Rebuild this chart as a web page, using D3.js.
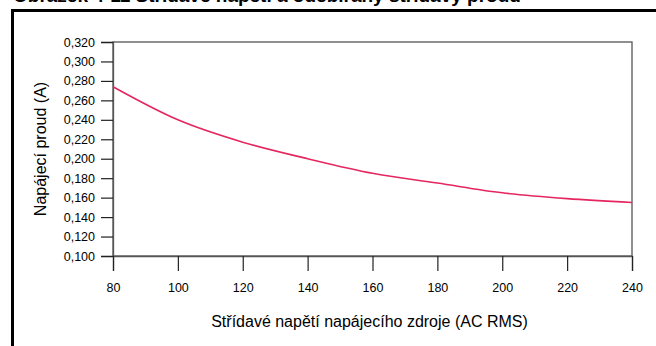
<!DOCTYPE html>
<html>
<head>
<meta charset="utf-8">
<script src="https://cdn.jsdelivr.net/npm/d3@7"></script>
<style>
  html, body { margin: 0; padding: 0; background: #fff; }
  svg { display: block; font-family: Arial, "Liberation Sans", sans-serif; }
</style>
</head>
<body>
<svg id="chart" width="656" height="346"></svg>
<script>
// Supply voltage (AC RMS) and the resulting supply current
const voltage = [80, 100, 120, 140, 160, 180, 200, 220, 240];
const current = [0.274, 0.240, 0.217, 0.200, 0.185, 0.175, 0.165, 0.159, 0.155];

const xTicks = [80, 100, 120, 140, 160, 180, 200, 220, 240];
const yTicks = [0.100, 0.120, 0.140, 0.160, 0.180, 0.200, 0.220, 0.240, 0.260, 0.280, 0.300, 0.320];

const titleText = "Obrázek 4-11 Střídavé napětí a odebíraný střídavý proud";
const xTitle = "Střídavé napětí napájecího zdroje (AC RMS)";
const yTitle = "Napájecí proud (A)";

const svg = d3.select("#chart");
const plot = { left: 113, right: 632, top: 42, bottom: 256 };

const x = d3.scaleLinear().domain([80, 240]).range([plot.left, plot.right]);
const y = d3.scaleLinear().domain([0.100, 0.320]).range([plot.bottom, plot.top]);

const cz = d3.formatLocale({ decimal: ",", thousands: " ", grouping: [3], currency: ["", " Kč"] });
const fmt = cz.format(".3f");

// Heading (runs off the top edge, only its lower part shows)
svg.append("text")
  .attr("x", 13).attr("y", 2)
  .attr("font-size", 19).attr("font-weight", "bold")
  .attr("fill", "#000")
  .text(titleText);

// Outer box: heavy rule across the top and down the left side
svg.append("line").attr("x1", 11).attr("x2", 656).attr("y1", 10.5).attr("y2", 10.5)
  .attr("stroke", "#000").attr("stroke-width", 3);
svg.append("line").attr("x1", 12.5).attr("x2", 12.5).attr("y1", 9).attr("y2", 346)
  .attr("stroke", "#000").attr("stroke-width", 3);

// Plot frame
const frameColor = "#555";
svg.append("rect")
  .attr("x", plot.left).attr("y", plot.top)
  .attr("width", plot.right - plot.left).attr("height", plot.bottom - plot.top)
  .attr("fill", "none").attr("stroke", frameColor).attr("stroke-width", 1.3);

const tickFont = "Arial, 'Liberation Sans', sans-serif";

// Y axis
const yAxis = svg.append("g")
  .attr("transform", `translate(${plot.left},0)`)
  .call(d3.axisLeft(y).tickValues(yTicks).tickFormat(fmt).tickSize(12).tickPadding(6));
yAxis.select(".domain").attr("stroke", frameColor).attr("stroke-width", 1.3);
yAxis.selectAll(".tick line").attr("stroke", "#222").attr("stroke-width", 1.2);
yAxis.selectAll(".tick text").attr("font-size", 12.5).attr("font-family", tickFont).attr("fill", "#000");

// X axis
const xAxis = svg.append("g")
  .attr("transform", `translate(0,${plot.bottom})`)
  .call(d3.axisBottom(x).tickValues(xTicks).tickFormat(d3.format("d")).tickSize(15).tickPadding(12));
xAxis.select(".domain").attr("stroke", frameColor).attr("stroke-width", 1.3);
xAxis.selectAll(".tick line").attr("stroke", "#222").attr("stroke-width", 1.2);
xAxis.selectAll(".tick text").attr("font-size", 12.5).attr("font-family", tickFont).attr("fill", "#000");

// Axis titles
svg.append("text")
  .attr("x", (plot.left + plot.right) / 2 - 3).attr("y", 327)
  .attr("text-anchor", "middle").attr("font-size", 16).attr("fill", "#000")
  .text(xTitle);

svg.append("text")
  .attr("transform", `translate(46,${(plot.top + plot.bottom) / 2}) rotate(-90)`)
  .attr("text-anchor", "middle").attr("font-size", 16).attr("fill", "#000")
  .text(yTitle);

// Current curve
const line = d3.line()
  .x((d, i) => x(voltage[i]))
  .y(d => y(d))
  .curve(d3.curveMonotoneX);

svg.append("path")
  .datum(current)
  .attr("d", line)
  .attr("fill", "none")
  .attr("stroke", "#e5265f")
  .attr("stroke-width", 1.6);
</script>
</body>
</html>
